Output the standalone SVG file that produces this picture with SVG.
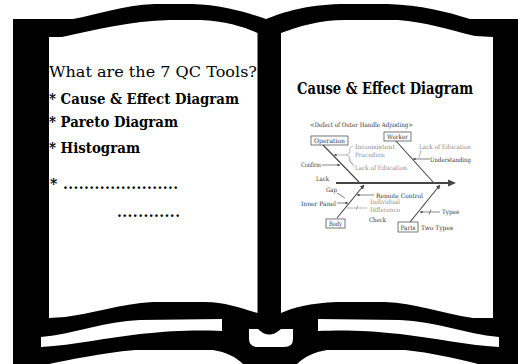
<svg xmlns="http://www.w3.org/2000/svg" xmlns:xlink="http://www.w3.org/1999/xlink" width="518" height="364" viewBox="0 0 518 364">
  <style>
    .ink { fill: #000; }
    .paper { fill: #fff; }
    .serif { font-family: "DejaVu Serif", "Liberation Serif", serif; fill: #000; }
    .q { font-size: 15.5px; }
    .item { font-size: 14px; font-weight: bold; }
    .title { font-size: 16px; font-weight: bold; }
    .fb { font-family: "DejaVu Serif", "Liberation Serif", serif; font-size: 6.2px; fill: #333; }
    .fb-soft { fill: #8a8a8a; }
    .box { fill: #fff; stroke: #555; stroke-width: 0.8; }
    .bone { stroke: #444; stroke-width: 1.1; fill: none; }
    .twig { stroke: #555; stroke-width: 0.7; fill: none; }
    .twig-soft { stroke: #999; stroke-width: 0.7; fill: none; }
  </style>
  <defs>
    <marker id="tip" viewBox="0 0 6 6" refX="5.5" refY="3" markerWidth="4" markerHeight="4" orient="auto">
      <path d="M0,0 L6,3 L0,6 Z" fill="#444"/>
    </marker>
    <!-- page-edge stripe under the left page; mirrored for the right page -->
    <path id="edge-stripe" d="M41,337 C75,334 105,321 140,320 L222,319 L222,331 C200,330 175,330 140,334 C105,338 75,345 41,347 Z"/>
  </defs>

  <rect width="518" height="364" fill="#fff"/>

  <!-- open book silhouette -->
  <g id="book">
    <path class="ink" d="M13,19 L73,19 C97,15 122,5 155,4 L192,4 C222,5 246,12 266,19 C284,12 306,5 340,4 L388,4 C420,5 448,12 470,19 L518,19 L518,364 L13,364 Z"/>
    <!-- left page -->
    <path class="paper" d="M49,37 L62,37 C95,30 130,21 170,20 L200,20 C225,21 245,27 257.5,33 L257.5,313 C240,308 225,302 205,302 L153,302 C120,304 90,314 65,317 L49,318 Z"/>
    <!-- right page -->
    <path class="paper" d="M281,33 C300,26 320,20 345,20 L398,20 C425,22 450,30 475,36 L493,37 L493,318 L473,318 C440,313 415,303 385,302 L337,302 C310,303 292,308 281,313 Z"/>
    <!-- page edges and base -->
    <use xlink:href="#edge-stripe" class="paper"/>
    <use xlink:href="#edge-stripe" class="paper" transform="translate(540,0) scale(-1,1)"/>
    <path class="paper" d="M249,329 L258,329 Q269,340 281,329 L293,329 L293,339 Q293,347 284,347 L258,347 Q249,347 249,339 Z"/>
    <path class="paper" d="M49,364 C70,360 100,353 135,350 L213,350 C226,352 236,357 243,364 Z"/>
    <path class="paper" d="M297,364 C304,357 314,352 327,350 L405,350 C432,353 455,358 478,364 Z"/>
  </g>

  <!-- left page text -->
  <g id="tool-list" class="serif">
    <text class="q" x="49" y="77" textLength="208" lengthAdjust="spacingAndGlyphs">What are the 7 QC Tools?</text>
    <text class="item" x="49" y="103.5" textLength="190" lengthAdjust="spacingAndGlyphs">* Cause &amp; Effect Diagram</text>
    <text class="item" x="49" y="127" textLength="129" lengthAdjust="spacingAndGlyphs">* Pareto Diagram</text>
    <text class="item" x="49" y="153" textLength="91" lengthAdjust="spacingAndGlyphs">* Histogram</text>
    <text class="item" x="50" y="189">*<tspan x="63" textLength="115" lengthAdjust="spacing">......................</tspan></text>
    <text class="item" x="117" y="217" textLength="63" lengthAdjust="spacing">............</text>
  </g>

  <!-- right page title -->
  <g id="page-title" class="serif">
    <text class="title" x="297" y="94" textLength="176" lengthAdjust="spacingAndGlyphs">Cause &amp; Effect Diagram</text>
  </g>

  <!-- fishbone: category boxes -->
  <g id="node-operation">
    <rect class="box" x="311" y="136" width="37" height="9"/>
    <text class="fb" x="314" y="143" textLength="31" lengthAdjust="spacingAndGlyphs">Operation</text>
  </g>
  <g id="node-worker">
    <rect class="box" x="384" y="132" width="27" height="9"/>
    <text class="fb" x="387" y="139" textLength="21" lengthAdjust="spacingAndGlyphs">Worker</text>
  </g>
  <g id="node-body">
    <rect class="box" x="326" y="219" width="19" height="9"/>
    <text class="fb" x="329" y="226" textLength="13" lengthAdjust="spacingAndGlyphs">Body</text>
  </g>
  <g id="node-parts">
    <rect class="box" x="398" y="222" width="20" height="10"/>
    <text class="fb" x="400.5" y="229.5" textLength="15" lengthAdjust="spacingAndGlyphs">Parts</text>
  </g>

  <!-- fishbone: bones and twigs -->
  <g id="connectors">
    <line x1="336" y1="183" x2="449" y2="183" stroke="#444" stroke-width="2"/>
    <path d="M448,179.5 L456,183 L448,186.5 Z" fill="#444"/>
    <line class="bone" x1="323" y1="145" x2="359" y2="182"/>
    <line class="bone" x1="396" y1="141" x2="433" y2="182"/>
    <line class="bone" x1="337" y1="218" x2="364" y2="185" marker-end="url(#tip)"/>
    <line class="bone" x1="410" y1="222" x2="440" y2="185" marker-end="url(#tip)"/>
    <!-- Operation twigs -->
    <line class="twig" x1="322" y1="165" x2="340" y2="165" marker-end="url(#tip)"/>
    <path class="twig-soft" d="M353,146 Q349,147 350,151 Q350,154 346,155 Q350,156 350,159 Q349,163 353,164"/>
    <line class="twig-soft" x1="346" y1="155" x2="334" y2="155" marker-end="url(#tip)"/>
    <line class="twig-soft" x1="349" y1="159" x2="354" y2="166"/>
    <!-- Worker twigs -->
    <line class="twig" x1="430" y1="159" x2="413" y2="159" marker-end="url(#tip)"/>
    <line class="twig-soft" x1="421" y1="150" x2="419" y2="158"/>
    <!-- Body twigs -->
    <line class="twig" x1="374" y1="195" x2="357" y2="195" marker-end="url(#tip)"/>
    <line class="twig" x1="337" y1="203" x2="348" y2="203" marker-end="url(#tip)"/>
    <line class="twig" x1="337" y1="193" x2="345" y2="198"/>
    <line class="twig-soft" x1="367" y1="208" x2="347" y2="208"/>
    <line class="twig-soft" x1="358" y1="205" x2="356" y2="210"/>
    <!-- Parts twigs -->
    <line class="twig" x1="440" y1="212" x2="420" y2="212" marker-end="url(#tip)"/>
    <line class="twig" x1="431" y1="209.5" x2="429" y2="214.5"/>
  </g>

  <!-- fishbone: cause labels -->
  <g id="labels">
    <text class="fb" x="310" y="126.5" textLength="103" lengthAdjust="spacingAndGlyphs">&lt;Defect of Outer Handle Adjusting&gt;</text>
    <text class="fb fb-soft" x="355" y="149" textLength="40" lengthAdjust="spacingAndGlyphs">Inconsistent</text>
    <text class="fb fb-soft" x="355" y="157" textLength="30" lengthAdjust="spacingAndGlyphs">Procedure</text>
    <text class="fb fb-soft" x="355" y="170" textLength="52" lengthAdjust="spacingAndGlyphs">Lack of Education</text>
    <text class="fb fb-soft" x="419" y="148.5" textLength="52" lengthAdjust="spacingAndGlyphs">Lack of Education</text>
    <text class="fb" x="430" y="162" textLength="41" lengthAdjust="spacingAndGlyphs">Understanding</text>
    <text class="fb" x="301" y="167" textLength="20" lengthAdjust="spacingAndGlyphs">Confirm</text>
    <text class="fb" x="316" y="181" textLength="13" lengthAdjust="spacingAndGlyphs">Lack</text>
    <text class="fb" x="326" y="192" textLength="11" lengthAdjust="spacingAndGlyphs">Gap</text>
    <text class="fb" x="376" y="198" textLength="47" lengthAdjust="spacingAndGlyphs">Remote Control</text>
    <text class="fb" x="301" y="205.5" textLength="35" lengthAdjust="spacingAndGlyphs">Inner Panel</text>
    <text class="fb fb-soft" x="370" y="204" textLength="30" lengthAdjust="spacingAndGlyphs">Individual</text>
    <text class="fb fb-soft" x="370" y="212" textLength="30" lengthAdjust="spacingAndGlyphs">Difference</text>
    <text class="fb" x="369" y="222" textLength="17" lengthAdjust="spacingAndGlyphs">Check</text>
    <text class="fb" x="442" y="214" textLength="17" lengthAdjust="spacingAndGlyphs">Types</text>
    <text class="fb" x="421" y="229.5" textLength="32" lengthAdjust="spacingAndGlyphs">Two Types</text>
  </g>
</svg>
